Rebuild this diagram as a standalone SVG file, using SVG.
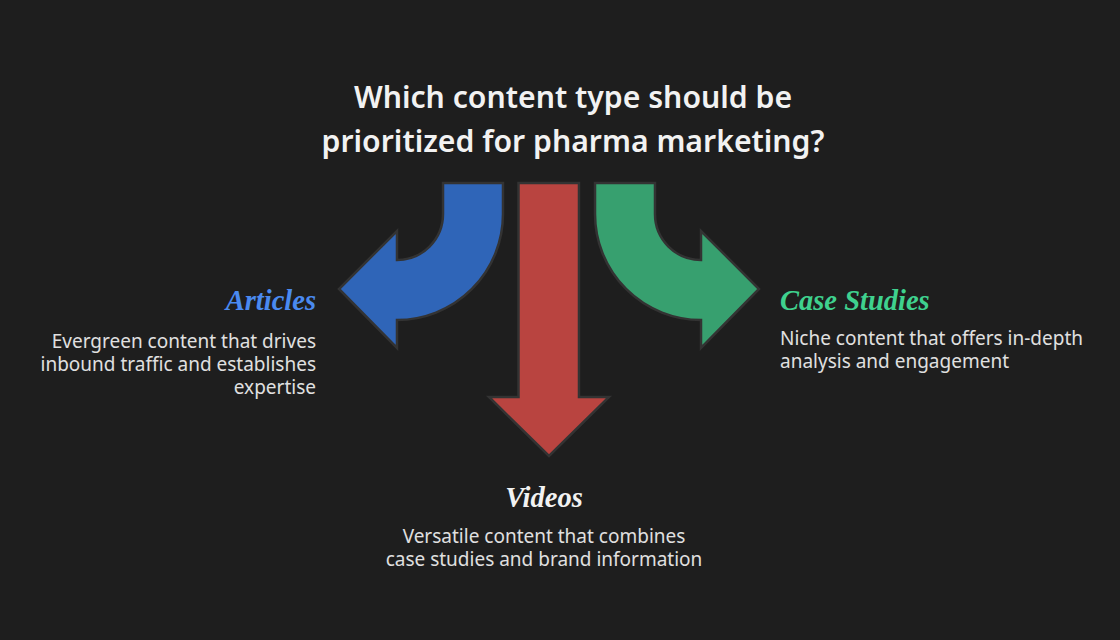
<svg xmlns="http://www.w3.org/2000/svg" width="1120" height="640" viewBox="0 0 1120 640">
<style>
.q{font-family:"Noto Sans","Open Sans",sans-serif;font-weight:600;font-size:30.2px;fill:#f2f2f2;text-anchor:middle}
.t{font-family:"Liberation Serif","Times New Roman",serif;font-weight:bold;font-style:italic;font-size:28.5px}
.b{font-family:"Noto Sans","Open Sans",sans-serif;font-size:19px;fill:#e0e0e0}
.arr{stroke:#333333;stroke-width:2.5;stroke-linejoin:miter}
</style>
<rect width="1120" height="640" fill="#1e1e1e"/>
<g id="question">
<text class="q" x="573" y="108">Which content type should be</text>
<text class="q" x="573" y="152">prioritized for pharma marketing?</text>
</g>
<g id="connectors">
<path class="arr" fill="#2f65b8" d="M443,183 L503,183 L503,214 A106,106 0 0 1 397,320 L397,348 L339,289 L397,231 L397,260 A46,46 0 0 0 443,214 Z"/>
<path class="arr" fill="#b94440" d="M518.5,183 L579,183 L579,397 L609,397 L549,456 L489,397 L518.5,397 Z"/>
<path class="arr" fill="#37a06f" d="M655,183 L595,183 L595,214 A106,106 0 0 0 701,320 L701,348 L759,289 L701,231 L701,260 A46,46 0 0 1 655,214 Z"/>
</g>
<g id="articles">
<text class="t" x="316" y="310" fill="#4a8af0" text-anchor="end">Articles</text>
<text class="b" x="316" y="348" text-anchor="end">Evergreen content that drives</text>
<text class="b" x="316" y="371" text-anchor="end">inbound traffic and establishes</text>
<text class="b" x="316" y="394" text-anchor="end">expertise</text>
</g>
<g id="case-studies">
<text class="t" x="780" y="310" fill="#3fd18e">Case Studies</text>
<text class="b" x="780" y="345">Niche content that offers in-depth</text>
<text class="b" x="780" y="368">analysis and engagement</text>
</g>
<g id="videos">
<text class="t" x="544" y="507" fill="#f2f2f2" text-anchor="middle">Videos</text>
<text class="b" x="544" y="543" text-anchor="middle">Versatile content that combines</text>
<text class="b" x="544" y="566" text-anchor="middle">case studies and brand information</text>
</g>
</svg>
